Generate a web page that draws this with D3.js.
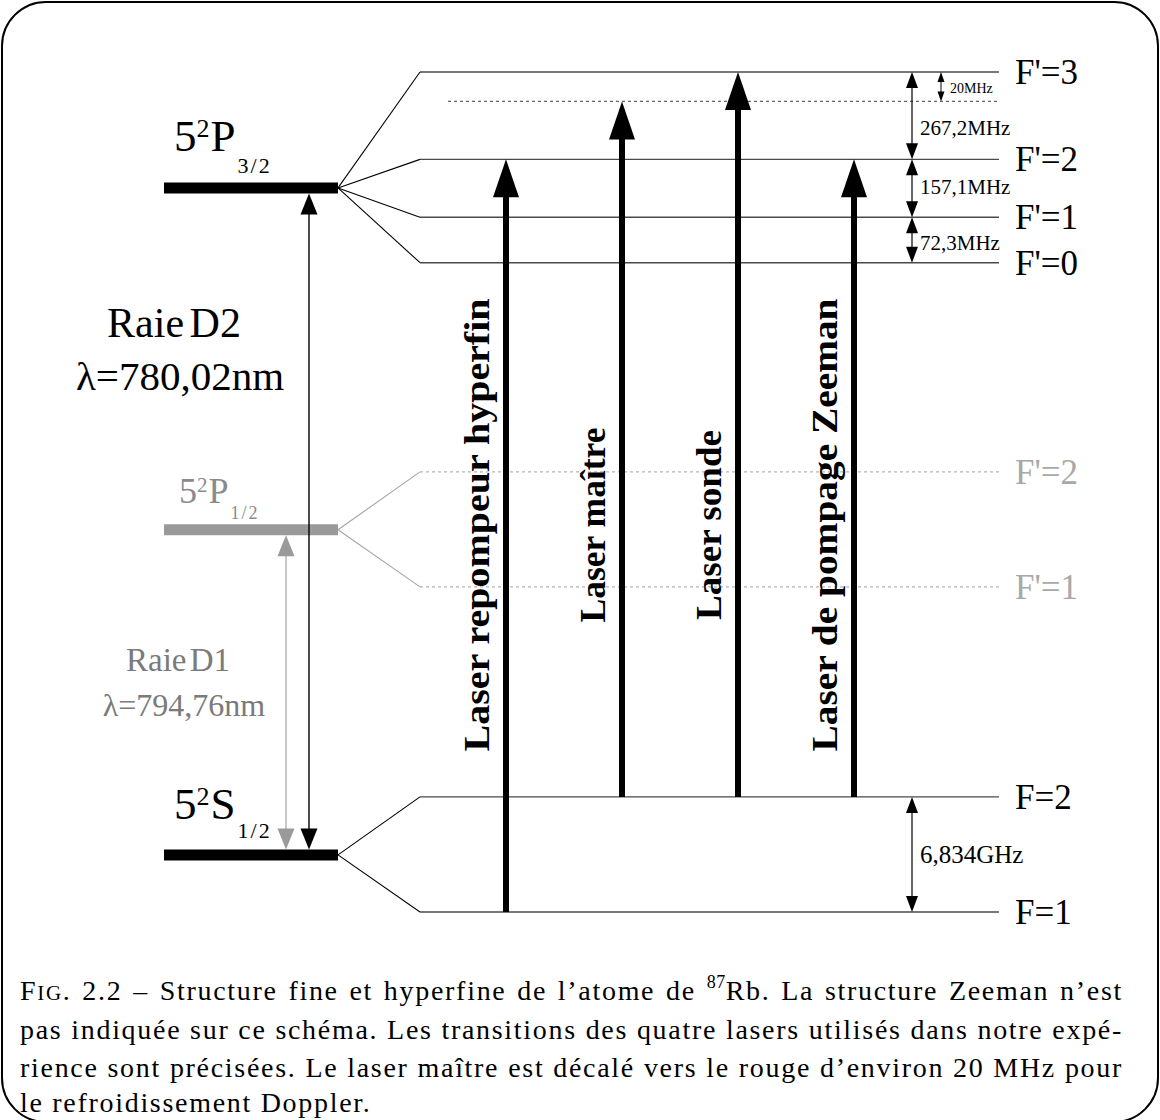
<!DOCTYPE html>
<html><head><meta charset="utf-8">
<script src="https://cdn.jsdelivr.net/npm/d3@7"></script>
<style>body{margin:0;background:#fff}svg{display:block}</style>
</head><body>
<script>
// ---- data (energies in arbitrary diagram units) ----
const fineLevels = [
  {id:"P32", main:"5", sup:"2", letter:"P", sub:"3/2", E:86.2, tone:"dark"},
  {id:"P12", main:"5", sup:"2", letter:"P", sub:"1/2", E:45.5, tone:"light"},
  {id:"S12", main:"5", sup:"2", letter:"S", sub:"1/2", E:6.8,  tone:"dark"}
];
const hyperP32 = [
  {label:"F'=3", E:100}, {label:"F'=2", E:89.6}, {label:"F'=1", E:82.7}, {label:"F'=0", E:77.3}
];
const hyperP12 = [ {label:"F'=2", E:52.4}, {label:"F'=1", E:38.7} ];
const hyperS12 = [ {label:"F=2", E:13.7}, {label:"F=1", E:0} ];
const detunedLevel = 96.5;
const lasers = [
  {name:"Laser repompeur hyperfin", from:0,    to:89.6},
  {name:"Laser maître",             from:13.7, to:96.5},
  {name:"Laser sonde",              from:13.7, to:100},
  {name:"Laser de pompage Zeeman",  from:13.7, to:89.6}
];
const splittings = [
  {label:"267,2MHz", top:100,  bottom:89.6},
  {label:"157,1MHz", top:89.6, bottom:82.7},
  {label:"72,3MHz",  top:82.7, bottom:77.3},
  {label:"6,834GHz", top:13.7, bottom:0}
];
const detuning = {label:"20MHz", top:100, bottom:96.5};
const lines = [
  {name:"Raie D2", lambda:"λ=780,02nm", top:86.2, bottom:6.8, tone:"dark"},
  {name:"Raie D1", lambda:"λ=794,76nm", top:45.5, bottom:6.8, tone:"light"}
];
const captionLines = [
  "Fig. 2.2 – Structure fine et hyperfine de l’atome de 87Rb. La structure Zeeman n’est",
  "pas indiquée sur ce schéma. Les transitions des quatre lasers utilisés dans notre expé-",
  "rience sont précisées. Le laser maître est décalé vers le rouge d’environ 20 MHz pour",
  "le refroidissement Doppler."
];

// ---- drawing ----
const W = 1160, H = 1120;
const FONT = "'Liberation Serif','Times New Roman',serif";
const svg = d3.select("body").append("svg").attr("width", W).attr("height", H)
  .style("font-family", FONT);

const y = d3.scaleLinear().domain([0, 100]).range([912, 72]);
const xL = d3.scalePoint().domain(lasers.map(d => d.name)).range([506, 854]);
const barX0 = 164, barX1 = 338, fanX = 420, lvlEnd = 999, lblX = 1013;

svg.append("rect").attr("x", 2).attr("y", 2).attr("width", W - 4).attr("height", H)
  .attr("rx", 44).attr("fill", "none").attr("stroke", "#000").attr("stroke-width", 2);

function head(g, x, tipY, dir, w, len, color) {
  g.append("path")
    .attr("d", `M${x},${tipY} L${x - w / 2},${tipY - dir * len} L${x + w / 2},${tipY - dir * len} Z`)
    .attr("fill", color);
}
function dbl(g, x, y1, y2, w, len, color, sw) {
  g.append("line").attr("x1", x).attr("x2", x).attr("y1", y1 + len - 1).attr("y2", y2 - len + 1)
    .attr("stroke", color).attr("stroke-width", sw);
  head(g, x, y1, -1, w, len, color);
  head(g, x, y2, 1, w, len, color);
}

// hyperfine groups
const groups = [
  {fine: fineLevels[0], levels: hyperP32, line: "#4a4a4a", fan: "#000", text: "#000", dash: null},
  {fine: fineLevels[1], levels: hyperP12, line: "#b5b5b5", fan: "#a5a5a5", text: "#a8a8a8", dash: "3,3"},
  {fine: fineLevels[2], levels: hyperS12, line: "#4a4a4a", fan: "#000", text: "#000", dash: null}
];
const gLv = svg.append("g");
groups.forEach(gr => {
  const yf = y(gr.fine.E);
  gr.levels.forEach(l => {
    gLv.append("line").attr("x1", barX1).attr("y1", yf).attr("x2", fanX).attr("y2", y(l.E))
      .attr("stroke", gr.fan).attr("stroke-width", 1.1);
    gLv.append("line").attr("x1", fanX).attr("x2", lvlEnd).attr("y1", y(l.E)).attr("y2", y(l.E))
      .attr("stroke", gr.line).attr("stroke-width", 1.4).attr("stroke-dasharray", gr.dash);
    gLv.append("text").attr("x", lblX + 2).attr("y", y(l.E) + 12).attr("font-size", 35)
      .attr("fill", gr.text).text(l.label);
  });
});
gLv.append("line").attr("x1", 448).attr("x2", lvlEnd).attr("y1", y(detunedLevel)).attr("y2", y(detunedLevel))
  .attr("stroke", "#666").attr("stroke-width", 1.2).attr("stroke-dasharray", "3,3");

// fine bars
fineLevels.forEach(f => {
  svg.append("line").attr("x1", barX0).attr("x2", barX1).attr("y1", y(f.E)).attr("y2", y(f.E))
    .attr("stroke", f.tone === "dark" ? "#000" : "#9a9a9a").attr("stroke-width", 11);
});
const fineLabelCfg = {
  P32: {x: 174, size: 45, supSize: 26, subSize: 22, supDy: -14, subDy: 22, off: 37},
  P12: {x: 179, size: 36, supSize: 21, subSize: 18, supDy: -11, subDy: 16, off: 27},
  S12: {x: 174, size: 45, supSize: 26, subSize: 22, supDy: -14, subDy: 19, off: 36}
};
fineLevels.forEach(f => {
  const c = fineLabelCfg[f.id];
  const t = svg.append("text").attr("x", c.x).attr("y", y(f.E) - c.off).attr("font-size", c.size)
    .attr("fill", f.tone === "dark" ? "#000" : "#8a8a8a");
  t.append("tspan").text(f.main);
  t.append("tspan").attr("font-size", c.supSize).attr("dy", c.supDy).text(f.sup);
  t.append("tspan").attr("dy", -c.supDy).attr("dx", 1).text(f.letter);
  t.append("tspan").attr("font-size", c.subSize).attr("dy", c.subDy).attr("dx", 2)
    .attr("letter-spacing", 2).text(f.sub);
});

// D2 / D1 transition arrows
const lineX = {dark: 309, light: 286};
lines.forEach(l => {
  const col = l.tone === "dark" ? "#000" : "#9a9a9a";
  const top = y(l.top) + 5.5, bot = y(l.bottom) - 5.5;
  svg.append("line").attr("x1", lineX[l.tone]).attr("x2", lineX[l.tone]).attr("y1", top + 18).attr("y2", bot - 18)
    .attr("stroke", l.tone === "dark" ? "#000" : "#b0b0b0").attr("stroke-width", 1.4);
  head(svg, lineX[l.tone], top, -1, 17, 21, col);
  head(svg, lineX[l.tone], bot, 1, 17, 21, col);
});
const dLab = {dark: {x: 174, y1: 337, y2: 390, s1: 42, s2: 41, col: "#000"},
              light: {x: 178, y1: 671, y2: 716, s1: 33, s2: 32, col: "#7a7a7a"}};
lines.forEach(l => {
  const c = dLab[l.tone];
  svg.append("text").attr("x", c.x).attr("y", c.y1).attr("text-anchor", "middle").attr("font-size", c.s1)
    .attr("fill", c.col).attr("word-spacing", -5).text(l.name);
  svg.append("text").attr("x", c.x + 6).attr("y", c.y2).attr("text-anchor", "middle").attr("font-size", c.s2)
    .attr("fill", c.col).text(l.lambda);
});

// lasers
const labelLen = {"Laser repompeur hyperfin": 453, "Laser maître": 195, "Laser sonde": 190, "Laser de pompage Zeeman": 453};
const gLas = svg.append("g");
lasers.forEach(l => {
  const x = xL(l.name), yt = y(l.to), yb = y(l.from);
  gLas.append("line").attr("x1", x).attr("x2", x).attr("y1", yb).attr("y2", yt + 30)
    .attr("stroke", "#000").attr("stroke-width", 6);
  head(gLas, x, yt, -1, 26, 38, "#000");
  gLas.append("text").attr("transform", `translate(${x - 17},525) rotate(-90)`)
    .attr("text-anchor", "middle").attr("font-size", 36).attr("font-weight", "bold")
    .attr("textLength", labelLen[l.name]).attr("lengthAdjust", "spacingAndGlyphs").text(l.name);
});

// splitting annotations
const gSp = svg.append("g");
splittings.forEach(s => {
  const big = s.label.indexOf("GHz") >= 0;
  dbl(gSp, 912, y(s.top), y(s.bottom), 12, 16, "#000", 1.2);
  const my = (y(s.top) + y(s.bottom)) / 2;
  const fs = big ? 25 : 21;
  let ty = my + fs * 0.33;
  if (s.label === "267,2MHz") ty = 135;
  if (s.label === "157,1MHz") ty = 194;
  if (s.label === "72,3MHz") ty = 250;
  gSp.append("text").attr("x", 920).attr("y", ty).attr("font-size", fs).text(s.label);
});
dbl(gSp, 941, y(detuning.top), y(detuning.bottom), 7, 10, "#000", 1);
gSp.append("text").attr("x", 950).attr("y", 93).attr("font-size", 14).text(detuning.label);

// caption
const gCap = svg.append("g").attr("font-size", 28).attr("letter-spacing", 1.7);
const capX = 20, capRight = 1123, capY = [1000, 1039, 1077, 1112];
captionLines.forEach((line, i) => {
  const t = gCap.append("text").attr("x", capX).attr("y", capY[i]);
  if (i === 0) {
    t.append("tspan").text("F");
    t.append("tspan").attr("font-size", 21).text("IG");
    t.append("tspan").text(". 2.2 – Structure fine et hyperfine de l’atome de ");
    t.append("tspan").attr("font-size", 18).attr("dy", -12).attr("letter-spacing", 0.5).text("87");
    t.append("tspan").attr("dy", 12).text("Rb. La structure Zeeman n’est");
  } else {
    t.text(line);
  }
  if (i < 3) {
    const natural = t.node().getComputedTextLength();
    const spaces = (line.match(/ /g) || []).length;
    t.attr("word-spacing", (capRight - capX - natural) / spaces);
  }
});
</script>
</body></html>
